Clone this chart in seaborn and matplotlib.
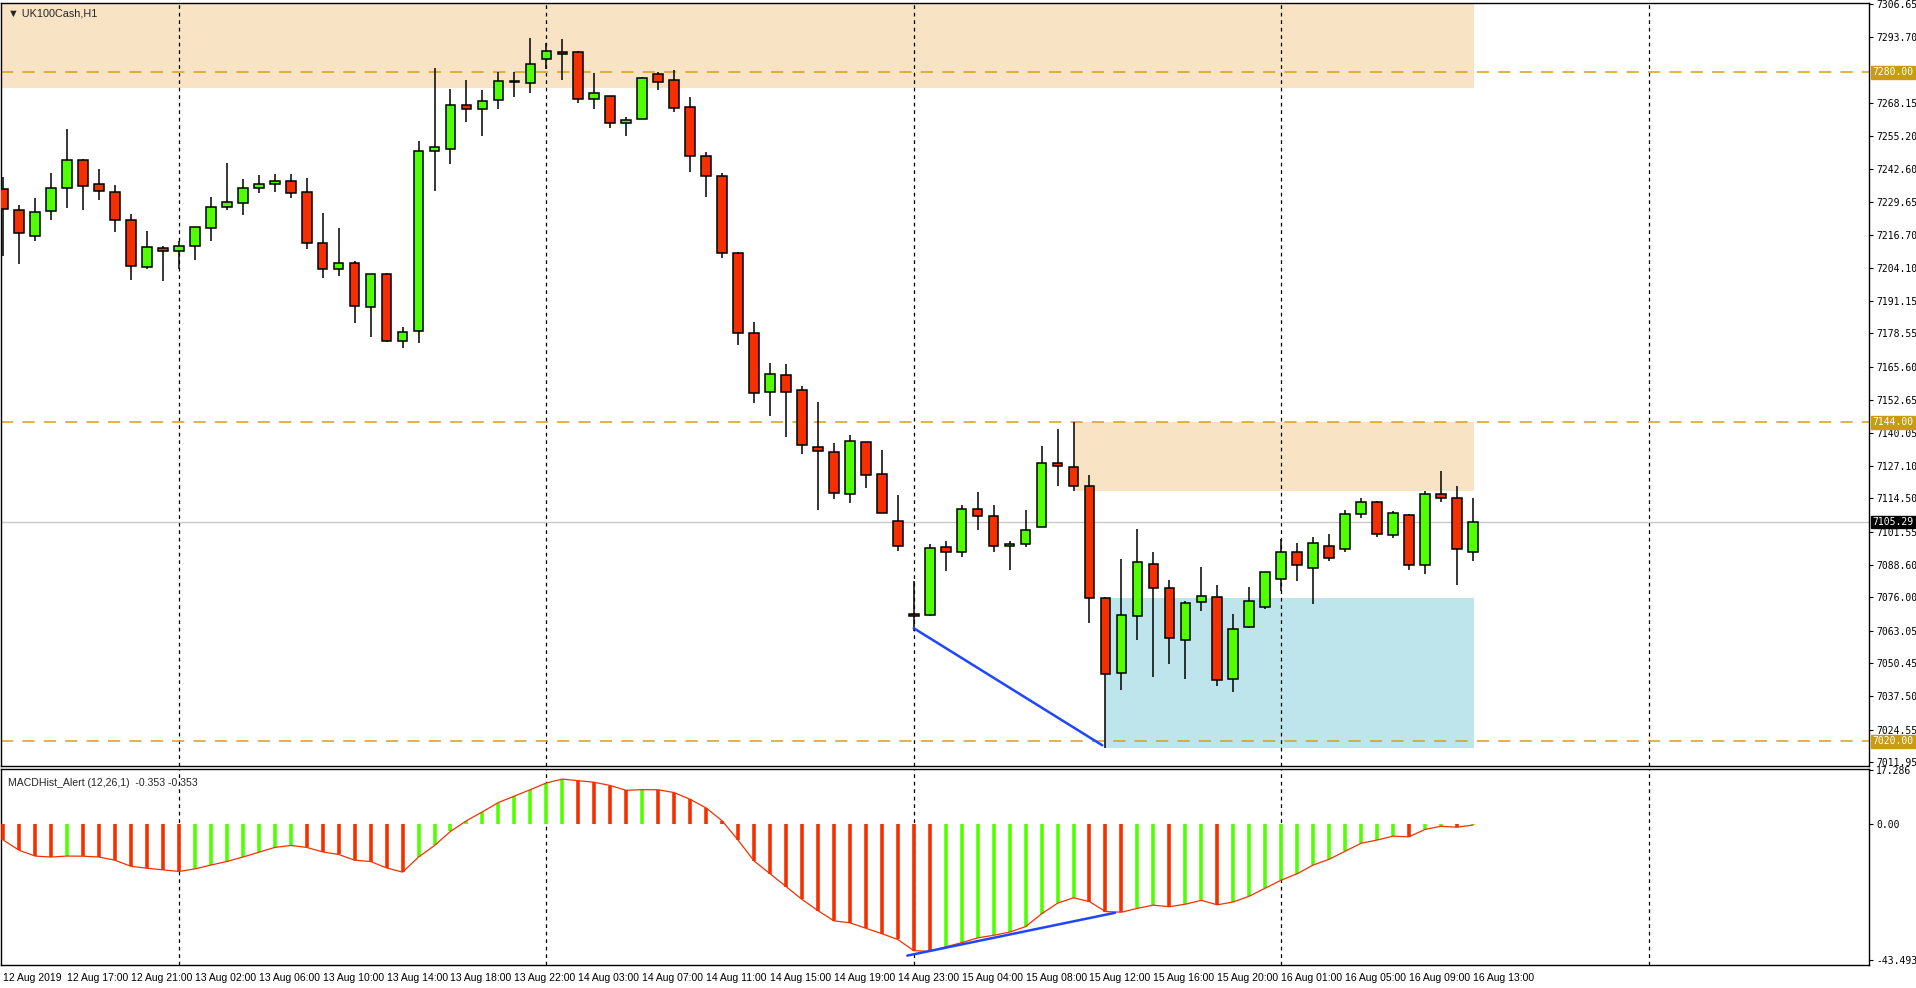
import numpy as np
import pandas as pd
import matplotlib
matplotlib.use("Agg")
import matplotlib.pyplot as plt
import seaborn as sns

opens = [7234.7,7226.5,7216.4,7226.1,7235.1,7245.9,7236.6,7233.5,7222.6,7204.3,
7211.7,7210.5,7212.5,7219.5,7227.7,7229.2,7235.1,7236.6,7237.8,7233.5,
7213.7,7203.5,7205.9,7188.8,7201.6,7175.6,7179.5,7249.4,7250.2,7267.3,
7265.8,7269.3,7276.3,7275.9,7285.2,7287.9,7287.9,7269.7,7270.8,7260.3,
7261.9,7279.4,7277.1,7266.6,7247.7,7239.6,7209.7,7178.6,7155.7,7162.3,
7156.4,7134.5,7132.3,7116.0,7136.2,7123.8,7105.5,7069.4,7069.0,7095.4,
7093.5,7110.2,7107.8,7095.8,7096.6,7103.2,7128.1,7126.5,7119.1,7075.6,
7046.7,7068.9,7088.8,7079.5,7059.6,7074.0,7076.3,7044.4,7064.5,7072.4,
7083.0,7093.8,7087.5,7096.1,7094.6,7108.4,7113.2,7100.4,7107.9,7088.5,
7116.0,7114.6,7093.7]
closes = [7226.9,7217.6,7225.7,7235.1,7245.9,7235.8,7233.9,7222.6,7204.7,7212.1,
7210.5,7212.5,7219.9,7227.7,7229.6,7235.1,7236.6,7237.8,7233.1,7213.7,
7203.5,7205.9,7189.2,7201.6,7175.6,7179.1,7249.4,7251.0,7267.3,7265.8,
7268.9,7276.7,7276.3,7283.3,7288.3,7287.2,7269.7,7272.0,7260.3,7261.5,
7277.8,7276.3,7266.2,7247.5,7239.6,7209.7,7178.6,7155.3,7162.7,7155.9,
7135.1,7132.7,7116.4,7136.6,7123.4,7108.6,7095.8,7068.6,7095.0,7093.5,
7110.2,7107.5,7095.8,7096.6,7102.0,7128.1,7126.9,7119.1,7075.6,7046.2,
7069.0,7089.6,7079.8,7060.3,7073.8,7076.7,7044.0,7063.8,7074.7,7085.7,
7093.5,7088.4,7097.0,7091.4,7108.4,7113.2,7100.8,7108.9,7088.5,7116.0,
7114.6,7094.6,7105.3]
highs = [7239.3,7228.5,7231.2,7240.9,7258.0,7246.3,7242.4,7236.2,7224.9,7218.3,
7212.5,7214.5,7219.9,7231.6,7244.8,7238.6,7240.1,7240.5,7240.5,7238.9,
7225.3,7219.5,7206.7,7201.6,7202.0,7181.0,7253.3,7281.7,7273.6,7277.1,
7273.2,7280.2,7280.2,7293.4,7291.4,7293.0,7288.3,7279.8,7270.8,7262.7,
7278.2,7280.2,7280.9,7270.4,7249.1,7241.1,7210.2,7182.9,7167.1,7166.7,
7158.0,7151.8,7136.0,7139.1,7136.2,7133.2,7115.7,7082.4,7096.6,7097.9,
7111.7,7116.8,7111.7,7097.7,7109.9,7134.9,7141.4,7144.0,7123.4,7076.0,
7090.9,7102.6,7093.5,7082.6,7074.5,7087.9,7080.7,7069.4,7080.2,7086.0,
7098.5,7097.0,7099.4,7100.8,7109.8,7114.6,7113.5,7109.5,7108.5,7117.5,
7125.1,7119.4,7114.6]
lows = [7208.6,7205.5,7214.5,7222.6,7227.3,7226.5,7230.4,7217.9,7199.3,7203.5,
7198.9,7203.5,7207.1,7214.5,7226.5,7224.6,7233.1,7233.5,7231.2,7211.3,
7200.1,7200.8,7182.6,7177.1,7175.2,7172.9,7174.8,7233.9,7244.4,7260.7,
7255.3,7265.8,7270.4,7272.0,7281.3,7277.1,7268.1,7265.8,7258.4,7255.3,
7261.9,7273.2,7264.6,7241.3,7231.6,7207.8,7174.2,7151.5,7146.6,7138.4,
7131.8,7110.0,7114.2,7112.6,7118.5,7108.6,7094.1,7062.8,7068.6,7086.3,
7091.5,7102.0,7093.5,7086.7,7095.4,7103.2,7119.1,7117.2,7066.2,7017.6,
7040.0,7059.4,7045.0,7050.0,7044.2,7070.7,7041.6,7039.2,7064.0,7071.5,
7078.3,7082.4,7073.3,7090.0,7093.5,7107.0,7099.5,7099.0,7086.5,7085.2,
7113.0,7080.9,7090.0]
macd = [-5.13,-8.41,-10.26,-10.57,-10.26,-10.30,-10.57,-11.59,-13.54,-14.16,
-14.67,-15.18,-14.36,-13.13,-12.00,-10.57,-9.03,-7.49,-6.87,-7.49,
-8.93,-9.75,-11.59,-12.00,-14.06,-15.39,-10.57,-6.87,-2.36,1.03,
3.90,6.87,8.93,10.98,13.13,14.36,13.85,13.34,12.31,10.77,
10.98,10.95,10.05,7.90,5.13,1.03,-5.13,-11.80,-15.90,-20.01,
-24.11,-27.70,-30.99,-31.60,-33.35,-35.09,-36.94,-40.53,-40.73,-39.30,
-37.96,-36.42,-35.60,-34.58,-32.83,-28.73,-25.34,-23.60,-24.83,-28.01,
-28.22,-26.98,-25.96,-26.47,-25.65,-24.42,-25.86,-24.93,-23.09,-20.52,
-17.96,-15.90,-13.13,-11.29,-8.72,-6.16,-5.13,-3.90,-4.10,-1.74,
-0.72,-1.03,-0.353]
xtick_labels = ["12 Aug 2019","12 Aug 17:00","12 Aug 21:00","13 Aug 02:00","13 Aug 06:00",
"13 Aug 10:00","13 Aug 14:00","13 Aug 18:00","13 Aug 22:00","14 Aug 03:00","14 Aug 07:00",
"14 Aug 11:00","14 Aug 15:00","14 Aug 19:00","14 Aug 23:00","15 Aug 04:00","15 Aug 08:00",
"15 Aug 12:00","15 Aug 16:00","15 Aug 20:00","16 Aug 01:00","16 Aug 05:00","16 Aug 09:00",
"16 Aug 13:00"]
xtick_pos = list(range(0, 93, 4))
price_ticks = [7306.65,7293.70,7268.15,7255.20,7242.60,7229.65,7216.70,7204.10,7191.15,
7178.55,7165.60,7152.65,7140.05,7127.10,7114.50,7101.55,7088.60,7076.00,7063.05,
7050.45,7037.50,7024.55,7011.95]
level_lines = [7280.0, 7144.0, 7020.0]
current_price = 7105.29
day_starts = [11, 34, 57, 80, 103]

sns.set_theme(style="white")
plt.rcParams['font.family'] = ['Liberation Sans', 'DejaVu Sans']

GREEN = '#52FF00'; RED = '#F53000'; GOLD = '#C89B10'
fig = plt.figure(figsize=(19.16, 9.88), dpi=100)
ax = fig.add_axes([0.0005, 0.2251, 0.9750, 0.7719])
am = fig.add_axes([0.0005, 0.0233, 0.9750, 0.1987])
XL = (-0.14, 116.8)
for a in (ax, am):
    a.set_xlim(*XL)
    for s in a.spines.values():
        s.set_color('black'); s.set_linewidth(1.0)
    for d in day_starts:
        a.axvline(d, color='black', lw=0.9, ls=(0, (3, 3)), zorder=1)
ax.set_ylim(7010.6, 7307.0)
am.set_ylim(-45.1, 17.7)

ax.fill_between([-0.14, 92.1], 7273.9, 7306.65, color='#F8E4C4', lw=0, zorder=0)
ax.fill_between([67.0, 92.1], 7117.5, 7144.0, color='#F8E4C4', lw=0, zorder=0)
ax.fill_between([69.0, 92.1], 7017.6, 7075.8, color='#BDE5EB', lw=0, zorder=0)
for lv in level_lines:
    ax.axhline(lv, color='#D4A017', lw=1.1, ls=(0, (8, 6)), zorder=2)
ax.axhline(current_price, color='#C8C8C8', lw=1.0, zorder=1)

df = pd.DataFrame(dict(o=opens, h=highs, l=lows, c=closes))
df['i'] = np.arange(len(df))
up = df.c >= df.o
ax.vlines(df.i, df.l, df.h, color='black', lw=1.1, zorder=3)
bottom = np.minimum(df.o, df.c)
height = np.maximum(np.abs(df.c - df.o), 0.5)
ax.bar(df.i, height, bottom=bottom, width=0.6, color=np.where(up, GREEN, RED),
       edgecolor='black', linewidth=1.1, zorder=4)
ax.plot([57, 68.8], [7064.0, 7018.5], color='#1F45FF', lw=1.8, zorder=5)

mv = np.array(macd)
rising = np.r_[False, mv[1:] > mv[:-1]]
am.vlines(df.i, 0, mv, colors=np.where(rising, GREEN, RED), lw=2.6, zorder=3)
sns.lineplot(x=df.i, y=mv, ax=am, color='#F53000', lw=0.9, zorder=4)
am.plot([56.6, 69.6], [-42.1, -28.4], color='#1F45FF', lw=1.8, zorder=5)
am.set_xlabel(''); am.set_ylabel('')

mono = dict(family='DejaVu Sans Mono', fontsize=7.0)
ax.yaxis.tick_right()
ax.set_yticks(price_ticks)
ax.set_yticklabels([f"{v:.2f}" for v in price_ticks], **mono)
ax.tick_params(axis='y', length=3, width=0.8, pad=2, colors='black', direction='out')
ax.set_xticks([])
for lv in level_lines:
    ax.text(1.002, lv, f"{lv:.2f}", transform=ax.get_yaxis_transform(), va='center', ha='left',
            color='white', bbox=dict(boxstyle='square,pad=0.15', fc=GOLD, ec=GOLD), **mono)
ax.text(1.002, current_price, f"{current_price:.2f}", transform=ax.get_yaxis_transform(), va='center',
        ha='left', color='white', bbox=dict(boxstyle='square,pad=0.15', fc='black', ec='black'), **mono)
ax.text(0.004, 0.993, "▼ UK100Cash,H1", transform=ax.transAxes, ha='left', va='top', fontsize=7.8)

am.yaxis.tick_right()
am.set_yticks([17.286, 0.0, -43.493])
am.set_yticklabels(["17.286", "0.00", "-43.493"], **mono)
am.tick_params(axis='y', length=3, width=0.8, pad=2, colors='black')
am.set_xticks(xtick_pos)
am.set_xticklabels(xtick_labels, fontsize=7.5, ha='left')
am.tick_params(axis='x', length=4, width=0.8, pad=2, colors='black', direction='out')
am.text(0.004, 0.95, "MACDHist_Alert (12,26,1)  -0.353 -0.353", transform=am.transAxes,
        ha='left', va='top', fontsize=7.6)

fig.savefig("out.png", dpi=100)
